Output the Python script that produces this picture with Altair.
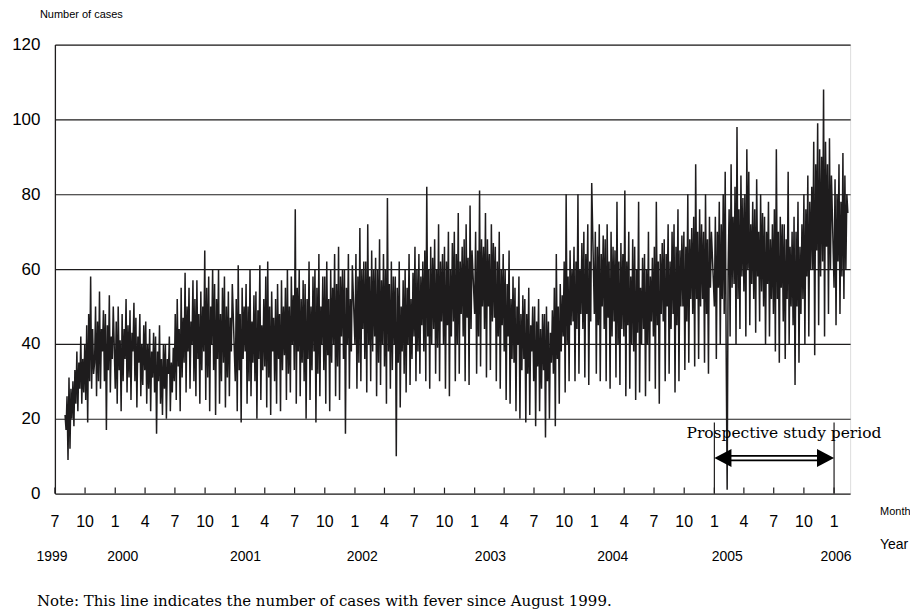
import altair as alt
import pandas as pd

# ---- daily fever cases (one value per ~3 days) ----
cases_1999 = [  # Aug - Dec 1999
    21, 17, 26, 9, 31, 12, 28, 20, 30, 18,
    33, 24, 38, 22, 35, 28, 42, 24, 36, 27,
    40, 25, 45, 19, 48, 30, 58, 28, 44, 32,
    35, 50, 26, 46, 30, 54, 28, 44, 38, 49,
    30, 48, 17, 45, 33, 53, 27, 42, 36, 50,
]
cases_2000 = [
    28, 46, 24, 50, 33, 41, 22, 48, 30, 44,
    36, 52, 27, 45, 31, 49, 25, 43, 38, 51,
    30, 47, 23, 42, 35, 48, 26, 40, 29, 45,
    33, 46, 24, 40, 28, 44, 22, 38, 31, 43,
    27, 42, 16, 38, 30, 45, 24, 36, 21, 40,
    28, 40, 20, 36, 32, 42, 22, 35, 27, 39,
    30, 48, 25, 52, 34, 44, 22, 55, 31, 47,
    35, 59, 27, 50, 38, 55, 28, 46, 40, 57,
    30, 52, 26, 57, 36, 48, 24, 54, 33, 50,
    38, 65, 25, 55, 31, 58, 22, 50, 40, 60,
    33, 56, 21, 52, 36, 60, 24, 48, 30, 55,
    35, 58, 23, 50, 31, 54, 26, 47, 38, 56,
]
cases_2001 = [
    30, 52, 22, 61, 33, 48, 19, 55, 36, 50,
    38, 56, 24, 50, 30, 60, 26, 46, 35, 53,
    30, 54, 20, 49, 36, 61, 25, 45, 33, 52,
    34, 58, 23, 62, 31, 50, 21, 54, 38, 47,
    30, 52, 24, 56, 36, 48, 22, 57, 33, 50,
    37, 55, 25, 60, 32, 50, 27, 58, 40, 53,
    33, 76, 24, 55, 38, 60, 26, 52, 35, 57,
    30, 56, 20, 52, 36, 62, 25, 50, 33, 58,
    38, 60, 19, 55, 32, 64, 26, 50, 40, 58,
    33, 58, 24, 62, 37, 52, 22, 60, 35, 55,
    40, 64, 26, 56, 34, 66, 25, 58, 42, 60,
    36, 60, 16, 55, 40, 64, 28, 52, 38, 61,
]
cases_2002 = [
    40, 64, 28, 58, 35, 71, 30, 60, 44, 62,
    36, 62, 27, 72, 40, 58, 30, 65, 38, 60,
    42, 63, 26, 60, 35, 68, 29, 57, 40, 64,
    34, 60, 24, 79, 38, 56, 28, 62, 33, 58,
    40, 58, 10, 55, 35, 62, 23, 50, 38, 57,
    32, 60, 27, 55, 40, 64, 29, 52, 36, 59,
    42, 66, 30, 60, 38, 64, 32, 58, 45, 62,
    38, 65, 30, 82, 42, 60, 28, 66, 40, 63,
    44, 68, 32, 60, 39, 72, 30, 62, 46, 64,
    40, 66, 28, 62, 45, 70, 26, 60, 42, 67,
    46, 70, 30, 64, 40, 75, 32, 62, 48, 66,
    42, 68, 30, 72, 47, 63, 29, 77, 44, 65,
]
cases_2003 = [
    48, 70, 32, 65, 42, 81, 34, 68, 50, 66,
    44, 75, 31, 68, 50, 64, 33, 72, 46, 67,
    47, 66, 30, 62, 42, 70, 28, 60, 45, 64,
    38, 60, 25, 56, 42, 65, 24, 52, 36, 58,
    35, 55, 22, 50, 40, 58, 20, 48, 33, 53,
    36, 52, 19, 48, 32, 55, 21, 45, 38, 50,
    30, 50, 18, 46, 34, 52, 22, 44, 28, 48,
    33, 48, 15, 50, 30, 46, 20, 43, 35, 49,
    32, 55, 18, 64, 36, 50, 24, 56, 38, 53,
    42, 62, 27, 80, 40, 58, 30, 65, 45, 60,
    46, 66, 30, 62, 44, 80, 32, 60, 48, 67,
    44, 70, 31, 64, 48, 72, 29, 62, 46, 83,
]
cases_2004 = [
    48, 70, 32, 66, 45, 72, 30, 64, 50, 69,
    44, 68, 30, 72, 47, 62, 28, 70, 42, 66,
    46, 65, 31, 78, 40, 62, 29, 67, 44, 64,
    42, 81, 26, 62, 45, 70, 28, 58, 40, 68,
    38, 66, 25, 60, 43, 78, 27, 55, 40, 63,
    44, 64, 26, 60, 40, 70, 30, 58, 46, 63,
    42, 66, 28, 78, 45, 62, 24, 64, 48, 67,
    46, 68, 30, 64, 50, 72, 32, 62, 44, 70,
    48, 72, 27, 66, 45, 76, 30, 65, 50, 69,
    50, 70, 33, 66, 46, 80, 35, 68, 52, 71,
    48, 74, 34, 88, 52, 70, 36, 76, 50, 72,
    52, 70, 35, 80, 48, 68, 32, 74, 55, 70,
]
cases_2005 = [
    50, 74, 36, 70, 55, 78, 40, 72, 52, 80,
    48, 86, 38, 1, 60, 76, 42, 88, 55, 74,
    56, 82, 40, 98, 52, 76, 44, 85, 58, 79,
    54, 80, 42, 92, 60, 86, 45, 72, 56, 78,
    52, 76, 43, 84, 58, 70, 46, 80, 54, 75,
    50, 74, 40, 70, 56, 78, 42, 68, 52, 72,
    48, 76, 38, 92, 52, 70, 35, 74, 55, 72,
    46, 72, 36, 68, 52, 86, 40, 66, 50, 70,
    45, 74, 29, 70, 50, 78, 35, 66, 48, 72,
    52, 80, 40, 76, 58, 85, 42, 78, 60, 82,
    60, 94, 37, 88, 65, 99, 45, 92, 58, 90,
    62, 108, 42, 94, 66, 88, 48, 95, 60, 85,
]
cases_2006 = [55, 84, 45, 80, 62, 88, 48, 78, 58, 91, 52, 85, 60, 80, 75]

series_starts = ["1999-08-01", "2000-01-01", "2001-01-01", "2002-01-01",
                 "2003-01-01", "2004-01-01", "2005-01-01", "2006-01-01"]
series_values = [cases_1999, cases_2000, cases_2001, cases_2002,
                 cases_2003, cases_2004, cases_2005, cases_2006]

# month ticks / labels (quarterly) and year labels
tick_dates = pd.date_range("1999-07-01", "2006-01-01", freq="3MS")
month_labels = [str(d.month) for d in tick_dates]
year_labels = ["1999", "2000", "2001", "2002", "2003", "2004", "2005", "2006"]
year_anchor = ["1999-06-22", "2000-01-24", "2001-02-01", "2002-01-23",
               "2003-02-18", "2004-02-26", "2005-02-09", "2006-01-07"]

study_start = "2005-01-01"
study_end = "2006-01-01"

# ---- build tables ----
rows = []
for start, vals in zip(series_starts, series_values):
    for d, v in zip(pd.date_range(start, periods=len(vals), freq="3D"), vals):
        rows.append({"date": d.strftime("%Y-%m-%d"), "cases": v})
df = pd.DataFrame(rows)


def ms(s):
    return int(pd.Timestamp(s, tz="UTC").value // 10**6)


xscale = alt.Scale(type="utc", domain=[ms("1999-07-01"), ms("2006-02-19")])
yscale = alt.Scale(domain=[0, 120], nice=False)

SANS = "Liberation Sans"
SERIF = "DejaVu Serif"
INK = "#1e1c1d"

line = alt.Chart(df).mark_line(color=INK, strokeWidth=1.5).encode(
    x=alt.X("date:T", scale=xscale, title=None, axis=None),
    y=alt.Y("cases:Q", scale=yscale, title=None,
            axis=alt.Axis(values=[0, 20, 40, 60, 80, 100, 120], grid=True,
                          gridColor=INK, gridWidth=1.2, gridOpacity=1,
                          domain=True, domainColor=INK, domainWidth=1.3,
                          ticks=False, labelFontSize=17, labelFont=SANS,
                          labelColor="black", labelPadding=15)),
)

tick_df = pd.DataFrame({"date": [d.strftime("%Y-%m-%d") for d in tick_dates],
                        "m": month_labels})
ticks = alt.Chart(tick_df).mark_rule(color=INK, strokeWidth=1.2).encode(
    x=alt.X("date:T", scale=xscale), y=alt.datum(0), y2=alt.datum(1.6))
months = alt.Chart(tick_df).mark_text(
    font=SANS, fontSize=16, align="center", baseline="middle", color="black").encode(
    x=alt.X("date:T", scale=xscale), y=alt.value(478), text="m:N")

bracket_df = pd.DataFrame({"date": [study_start, study_end]})
brackets = alt.Chart(bracket_df).mark_rule(color=INK, strokeWidth=1.2).encode(
    x=alt.X("date:T", scale=xscale), y=alt.datum(0), y2=alt.datum(19))

shaft_df = pd.DataFrame({"d0": ["2005-02-20", "2005-02-20"],
                         "d1": ["2005-11-12", "2005-11-12"],
                         "v": [10.1, 8.9]})
shaft = alt.Chart(shaft_df).mark_rule(color="black", strokeWidth=1.8).encode(
    x=alt.X("d0:T", scale=xscale), x2="d1:T", y=alt.Y("v:Q", scale=yscale))

head_l = alt.Chart(pd.DataFrame({"date": [study_start], "v": [9.5]})).mark_point(
    shape="M0,0L1.9,-1L1.9,1Z", filled=True, size=324, color="black",
    opacity=1, strokeWidth=0).encode(x=alt.X("date:T", scale=xscale),
                                     y=alt.Y("v:Q", scale=yscale))
head_r = alt.Chart(pd.DataFrame({"date": [study_end], "v": [9.5]})).mark_point(
    shape="M0,0L-1.9,-1L-1.9,1Z", filled=True, size=324, color="black",
    opacity=1, strokeWidth=0).encode(x=alt.X("date:T", scale=xscale),
                                     y=alt.Y("v:Q", scale=yscale))

study_label = alt.Chart(pd.DataFrame({"date": ["2004-10-08"], "v": [16.3],
                                      "t": ["Prospective study period"]})).mark_text(
    font=SERIF, fontSize=15.5, align="left", baseline="middle", color="black").encode(
    x=alt.X("date:T", scale=xscale), y=alt.Y("v:Q", scale=yscale), text="t:N")

years = alt.Chart(pd.DataFrame({"date": year_anchor, "t": year_labels})).mark_text(
    font=SANS, fontSize=14, align="center", baseline="middle", color="black").encode(
    x=alt.X("date:T", scale=xscale), y=alt.value(514), text="t:N")


def note(text, x, y, size, font=SANS, align="left"):
    return alt.Chart(pd.DataFrame({"t": [text]})).mark_text(
        font=font, fontSize=size, align=align, baseline="middle", color="black").encode(
        x=alt.value(x), y=alt.value(y), text="t:N")


chart = alt.layer(
    line, ticks, months, brackets, shaft, head_l, head_r, study_label, years,
    note("Number of cases", -15, -30, 11),
    note("Month", 827, 468, 11),
    note("Year", 827, 502, 14),
    note("Note: This line indicates the number of cases with fever since August 1999.",
         -18, 558, 15, font=SERIF),
).properties(
    width=797, height=450, autosize="none",
    padding={"left": 47, "top": 36, "right": 60, "bottom": 120},
).configure_view(stroke=None).configure(background="white")

chart.save("out.html", embed_options={"renderer": "svg", "actions": False})
